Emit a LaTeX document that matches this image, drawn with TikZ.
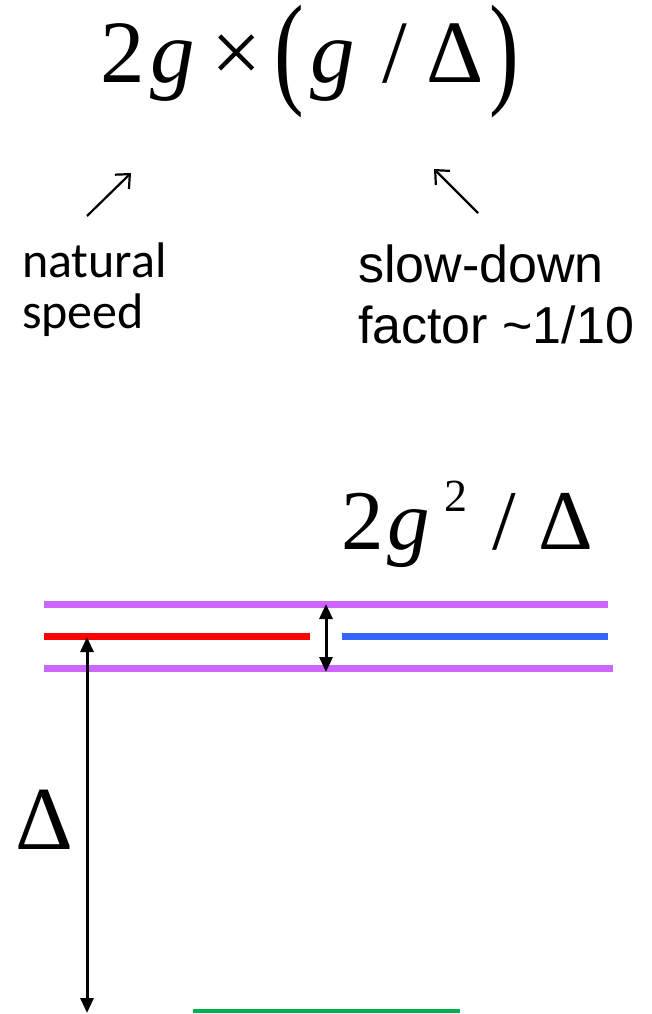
\documentclass[tikz,border=0pt]{standalone}
\usepackage{fontspec}
\setmainfont{Liberation Serif}
\newfontfamily\calfont{Carlito}
\newfontfamily\arialfont{Liberation Sans}
\usepackage{graphicx}
\usepackage{xcolor}
\usetikzlibrary{arrows.meta, positioning, calc}

\definecolor{levpurple}{RGB}{204,102,255}
\definecolor{levred}{RGB}{255,0,0}
\definecolor{levblue}{RGB}{51,102,255}
\definecolor{levgreen}{RGB}{0,176,80}

\newcommand{\tallparen}[1]{\raisebox{-9pt}{\scalebox{1}[1.4]{#1}}}

\begin{document}
\begin{tikzpicture}[x=1pt, y=-1pt,
    every node/.style={inner sep=0pt, outer sep=0pt},
    bigmath/.style={font=\fontsize{89}{89}\selectfont, anchor=base west},
    label/.style={align=left, anchor=base west},
    pointer/.style={line width=2.2pt, -{Straight Barb[length=11pt, width=20pt]}},
    span/.style={line width=3pt, {Triangle[length=15pt, width=13pt]}-{Triangle[length=15pt, width=13pt]}},
    level/.style={line width=7pt}]
  \useasboundingbox (0,0) rectangle (652,1014);

  % Rate with slow-down
  \node[bigmath] (rate) at (100,83)
    {2\hspace{6pt}\textit{g}\hspace{16pt}×\hspace{13pt}\tallparen{(}\hspace{7pt}\textit{g}\hspace{27pt}/\hspace{19pt}Δ\hspace{6pt}\tallparen{)}};

  % Labels under the rate (base = last line)
  \node[label, font=\calfont\fontsize{50}{51}\selectfont] (natural) at (22,328) {natural\\speed};
  \node[label, font=\arialfont\fontsize{52}{61}\selectfont] (slowdown) at (358,343) {slow-down\\factor \textasciitilde1/10};

  \coordinate (natTail) at (87,216);
  \coordinate (natTip) at (131,173);
  \coordinate (slowTail) at (478,213);
  \coordinate (slowTip) at (434,169);
  \draw[pointer] (natTail) -- (natTip);
  \draw[pointer] (slowTail) -- (slowTip);

  % Splitting
  \node[font=\fontsize{85}{85}\selectfont, anchor=base west] (split) at (341,549)
    {2\hspace{4pt}\textit{g}\hspace{14pt}\raisebox{38pt}{\fontsize{46}{46}\selectfont 2}\hspace{25pt}/\hspace{23pt}Δ};

  % Levels
  \coordinate (upL) at (44,604);   \coordinate (upR) at (608,604);
  \coordinate (redL) at (44,636);  \coordinate (redR) at (310,636);
  \coordinate (blueL) at (342,636); \coordinate (blueR) at (608,636);
  \coordinate (loL) at (44,668);   \coordinate (loR) at (613,668);
  \coordinate (gndL) at (193,1011); \coordinate (gndR) at (460,1011);
  \draw[level, levpurple] (upL) -- (upR);
  \draw[level, levpurple] (loL) -- (loR);
  \draw[level, levred] (redL) -- (redR);
  \draw[level, levblue] (blueL) -- (blueR);
  \draw[line width=3.5pt, levgreen] (gndL) -- (gndR);

  % Spans
  \coordinate (splitTop) at (326,604);
  \coordinate (splitBot) at (326,672);
  \draw[span] (splitTop) -- (splitBot);
  \coordinate (detTop) at (87,637);
  \coordinate (detBot) at (87,1013);
  \draw[span] (detTop) -- (detBot);
  \node[font=\fontsize{90}{90}\selectfont, anchor=base west] (detuning) at (16,849) {Δ};
\end{tikzpicture}
\end{document}
